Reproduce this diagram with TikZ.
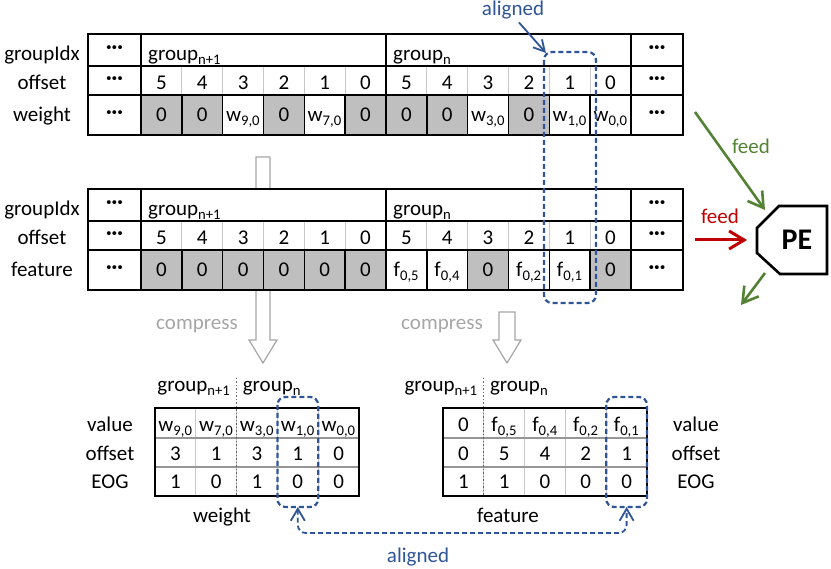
\documentclass[tikz,border=0pt]{standalone}
\usepackage{fontspec}
\setmainfont{Carlito}
\usepackage{xcolor}
\usetikzlibrary{positioning,calc,arrows.meta}

\definecolor{alignblue}{RGB}{47,85,151}
\definecolor{feedgreen}{RGB}{84,130,53}
\definecolor{feedred}{RGB}{192,0,0}
\definecolor{zerofill}{RGB}{191,191,191}
\definecolor{softline}{RGB}{200,200,200}
\definecolor{midline}{RGB}{150,150,150}
\definecolor{compressgray}{RGB}{166,166,166}

\newcommand{\wv}[1]{w\textsubscript{#1,0}}
\newcommand{\fv}[1]{f\textsubscript{0,#1}}
\newcommand{\dotcell}{\textbf{\textperiodcentered\textperiodcentered\textperiodcentered}}

\begin{document}
\begin{tikzpicture}[x=1pt,y=-1pt,font=\fontsize{21}{25}\selectfont,
  cell/.style={inner sep=0pt,text height=14pt,text depth=0pt},
  dotnode/.style={inner sep=0pt},
  tableline/.style={black,line width=1.4pt},
  softrule/.style={softline,line width=1.2pt},
  midrule/.style={midline,line width=1.2pt},
  groupcut/.style={black!60,line width=1pt,dash pattern=on 1.5pt off 2pt},
  alignbox/.style={alignblue,line width=2.2pt,dash pattern=on 5pt off 3pt,rounded corners=8pt},
  alignarrow/.style={alignblue,line width=1.8pt},
  hollow/.style={compressgray,fill=white,line width=1.2pt},
  feedtip/.style={-{Straight Barb[length=15pt,width=18pt]}}]
\useasboundingbox (0,0) rectangle (831,569);
\def\cw{40.83}
\def\pw{40.8}

% #1 = y shift, #2 = name prefix, #3 = label of the last row, #4 = cells of the last row (text/shaded)
\newcommand{\streamtable}[4]{%
\begin{scope}[shift={(0,#1)}]
  % White ground hides the compress arrow behind the table.
  \fill[white] (88,0) rectangle (683,101);

  % Row labels and the dots at both ends.
  \node[cell] (#2-lg) at (42,20) {groupIdx};
  \node[cell] (#2-lo) at (42,48.5) {offset};
  \node[cell] (#2-lv) at (42,81) {#3};
  \foreach \yy/\rr in {16/g,46.5/o,80.5/v} {
    \node[dotnode] (#2-a\rr) at (114.5,\yy) {\dotcell};
    \node[dotnode] (#2-b\rr) at (657,\yy) {\dotcell};
  }

  % Group names in the top row.
  \node[cell,anchor=west] (#2-gn1) at (148,20) {group\textsubscript{n+1}};
  \node[cell,anchor=west] (#2-gn) at (393,20) {group\textsubscript{n}};

  % Offset row and value row, one column at a time.
  \foreach \v/\s [count=\i from 0] in {#4} {
    \pgfmathsetmacro{\xa}{141+\i*\cw}
    \pgfmathtruncatemacro{\oo}{5-mod(\i,6)}
    \ifnum\s=1 \fill[zerofill] (\xa,61) rectangle ++(\cw,40); \fi
    \node[cell] (#2-o\i) at (\xa+\cw/2,48.5) {\oo};
    \node[cell] (#2-v\i) at (\xa+\cw/2,81) {\v};
    \draw[softrule] (\xa,32) -- ++(0,29);
    \draw[tableline] (\xa,61) -- ++(0,40);
  }

  % Rules and frame.
  \draw[tableline] (88,32) -- (683,32);
  \draw[tableline] (88,61) -- (683,61);
  \foreach \xx in {141,386,631}
    \draw[tableline] (\xx,0) -- (\xx,101);
  \draw[tableline] (88,0) rectangle (683,101);
\end{scope}%
}

% #1 = x shift, #2 = name prefix, #3 = values, #4 = offsets, #5 = EOG flags, #6 = columns of group n+1
\newcommand{\packedtable}[6]{%
\begin{scope}[shift={(#1,0)}]
  \fill[white] (0,408) rectangle (204,496);
  \foreach \v [count=\i from 0] in {#3}
    \node[cell] (#2-v\i) at (\i*\pw+\pw/2,425) {\v};
  \foreach \v [count=\i from 0] in {#4}
    \node[cell] (#2-o\i) at (\i*\pw+\pw/2,454) {\v};
  \foreach \v [count=\i from 0] in {#5}
    \node[cell] (#2-e\i) at (\i*\pw+\pw/2,482) {\v};
  \foreach \i in {1,...,4}
    \draw[softrule] (\i*\pw,408) -- (\i*\pw,496);
  \draw[midrule] (0,438) -- (204,438);
  \draw[midrule] (0,467) -- (204,467);

  % Dotted cut between the two groups.
  \draw[groupcut] (#6*\pw,378) -- (#6*\pw,496);
  \draw[tableline,line width=2pt] (0,408) rectangle (204,496);
  \node[cell,anchor=east] (#2-gn1) at (#6*\pw-6,385) {group\textsubscript{n+1}};
  \node[cell,anchor=west] (#2-gn) at (#6*\pw+6,385) {group\textsubscript{n}};
\end{scope}%
}

% Compress arrows, drawn first so the tables cover them.
\draw[hollow] (256,157) -- (270,157) -- (270,340) -- (277,340)
  -- (263,363) -- (249,340) -- (256,340) -- cycle;
\draw[hollow] (499,312) -- (515,312) -- (515,340) -- (521,340)
  -- (507,363) -- (493,340) -- (499,340) -- cycle;
\node[cell,text=compressgray] (cmp-w) at (197,323) {compress};
\node[cell,text=compressgray] (cmp-f) at (442,323) {compress};

% Sparse weight and feature streams.
\streamtable{34}{w}{weight}{0/1,0/1,\wv9/0,0/1,\wv7/0,0/1,0/1,0/1,\wv3/0,0/1,\wv1/0,\wv0/0}
\streamtable{189}{f}{feature}{0/1,0/1,0/1,0/1,0/1,0/1,\fv5/0,\fv4/0,0/1,\fv2/0,\fv1/0,0/1}

% Compressed weight and feature.
\packedtable{155}{pw}{\wv9,\wv7,\wv3,\wv1,\wv0}{3,1,3,1,0}{1,0,1,0,0}{2}
\packedtable{443}{pf}{0,\fv5,\fv4,\fv2,\fv1}{0,5,4,2,1}{1,1,0,0,0}{1}

\node[cell] (pw-lv) at (110,425) {value};
\node[cell] (pw-lo) at (110,454) {offset};
\node[cell] (pw-le) at (110,482) {EOG};
\node[cell] (pf-lv) at (696,425) {value};
\node[cell] (pf-lo) at (696,454) {offset};
\node[cell] (pf-le) at (696,482) {EOG};
\node[cell] (pw-t) at (222,515) {weight};
\node[cell] (pf-t) at (508,515) {feature};

% Aligned columns.
\draw[alignbox] (544,52) rectangle (596,303);
\draw[alignbox] (277.4,397) rectangle (318.2,507);
\draw[alignbox] (606.2,397) rectangle (647,507);

\node[cell,text=alignblue] (al-top) at (513,8.5) {aligned};
\coordinate (al-corner) at (546,53);
\draw[alignarrow,shorten <=9pt,-{Straight Barb[length=11pt,width=12pt]}]
  (al-top.south) -- (al-corner);

\coordinate (pw-tip) at (297.8,507);
\coordinate (pf-tip) at (626.6,507);
\coordinate (al-low) at (462,533);
\draw[alignarrow,dash pattern=on 5pt off 3pt,rounded corners=8pt,
  {Straight Barb[length=12pt,width=14pt]}-{Straight Barb[length=12pt,width=14pt]}]
  (pw-tip) |- (al-low) -| (pf-tip);
\node[cell,text=alignblue] (al-bot) at (418,555) {aligned};

% Processing element and its feeds.
\draw[line width=2.6pt,line join=miter]
  (779,206) -- (827,206) -- (827,274) -- (780,274) -- (757,253) -- (757,228) -- cycle;
\node[font=\fontsize{30}{34}\selectfont\bfseries,inner sep=0pt] (pe) at (797,240) {PE};

\coordinate (w-out) at (695,112);
\coordinate (pe-top) at (765,210);
\coordinate (f-out) at (695,240);
\coordinate (pe-left) at (747,240);
\coordinate (pe-bottom) at (765,273);
\coordinate (pe-result) at (741,305);
\draw[feedgreen,line width=2.6pt,feedtip] (w-out) -- (pe-top);
\draw[feedred,line width=3pt,feedtip] (f-out) -- (pe-left);
\draw[feedgreen,line width=2.6pt,feedtip] (pe-bottom) -- (pe-result);
\node[cell,text=feedgreen] (fd-w) at (751,146.5) {feed};
\node[cell,text=feedred] (fd-f) at (720,216.5) {feed};

\end{tikzpicture}
\end{document}
